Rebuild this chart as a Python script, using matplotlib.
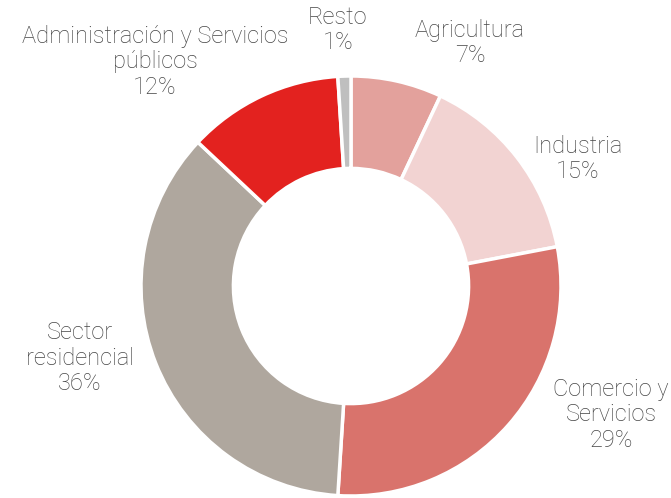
import matplotlib
matplotlib.use("Agg")
import matplotlib.pyplot as plt

sectores = ["Agricultura", "Industria", "Comercio y\nServicios", "Sector\nresidencial",
            "Administración y Servicios\npúblicos", "Resto"]
porcentajes = [7, 15, 29, 36, 12, 1]
colores = ["#E3A19C", "#F2D3D2", "#D9736C", "#AFA79E", "#E3221F", "#BFBFBF"]

# posiciones de las etiquetas (radio del anillo = 1)
pos_etiquetas = [(0.567, 1.157), (1.081, 0.605), (1.238, -0.614),
                 (-1.290, -0.343), (-0.933, 1.067), (-0.062, 1.219)]

plt.rcParams['font.family'] = ['Roboto', 'DejaVu Sans']

fig = plt.figure(figsize=(6.71, 4.98), dpi=100)
ax = fig.add_axes([0, 0, 1, 1])

ax.pie(porcentajes, colors=colores, startangle=90, counterclock=False,
       wedgeprops=dict(width=0.44, edgecolor="white", linewidth=2.5))

for nombre, pct, (x, y) in zip(sectores, porcentajes, pos_etiquetas):
    ax.text(x, y, f"{nombre}\n{pct}%", ha="center", va="center",
            fontsize=17, fontweight="light", color="#454545", linespacing=1.12)

ax.set_xlim(-351 / 210, 320 / 210)
ax.set_ylim(-212 / 210, 286 / 210)
ax.set_aspect("auto")
ax.axis("off")

fig.savefig("out.png", dpi=100)
